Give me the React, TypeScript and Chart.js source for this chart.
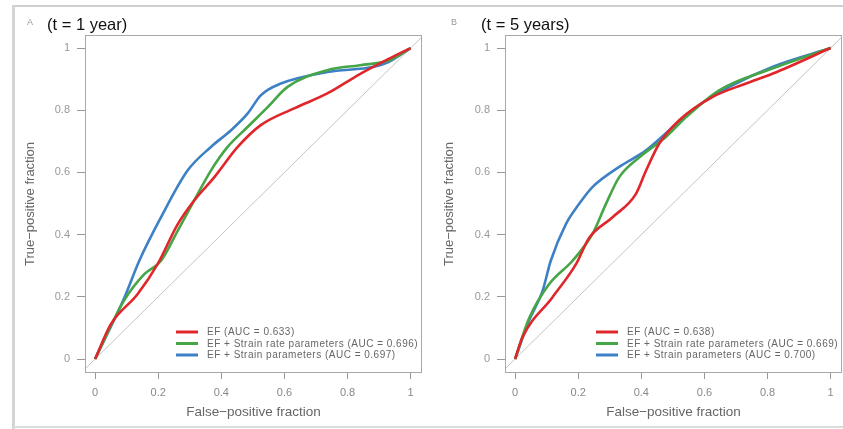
import React, { useEffect, useRef } from "react";
import { Chart, registerables } from "chart.js";
Chart.register(...registerables);

const tickValues = [0, 0.2, 0.4, 0.6, 0.8, 1];
const tickLabels = ["0", "0.2", "0.4", "0.6", "0.8", "1"];
const seriesNames = ["EF", "EF + Strain rate parameters", "EF + Strain parameters"];
const seriesColors = ["#e0262b", "#46a546", "#3d80c6"];
const aucA = ["0.633", "0.696", "0.697"];
const aucB = ["0.638", "0.669", "0.700"];
const panelTitles = ["(t = 1 year)", "(t = 5 years)"];
const panelLetters = ["A", "B"];
const xTitle = "False\u2212positive fraction";
const yTitle = "True\u2212positive fraction";
const axisMin = -0.032;
const axisMax = 1.036;

// Panel A (t = 1 year)
const redA_fpr = [0, 0.05, 0.135, 0.198, 0.262, 0.314, 0.378, 0.452, 0.525, 0.631, 0.736, 0.842, 0.93, 1];
const redA_tpr = [0, 0.112, 0.209, 0.305, 0.434, 0.51, 0.585, 0.682, 0.752, 0.806, 0.854, 0.918, 0.965, 1];
const greenA_fpr = [0, 0.093, 0.156, 0.209, 0.262, 0.314, 0.367, 0.42, 0.483, 0.547, 0.61, 0.736, 0.84, 0.93, 1];
const greenA_tpr = [0, 0.19, 0.273, 0.316, 0.413, 0.51, 0.606, 0.682, 0.746, 0.81, 0.875, 0.929, 0.945, 0.96, 1];
const blueA_fpr = [0, 0.093, 0.14, 0.209, 0.293, 0.367, 0.43, 0.483, 0.525, 0.589, 0.736, 0.884, 0.93, 1];
const blueA_tpr = [0, 0.198, 0.316, 0.456, 0.606, 0.682, 0.735, 0.789, 0.848, 0.886, 0.923, 0.94, 0.955, 1];

// Panel B (t = 5 years)
const redB_fpr = [0, 0.023, 0.118, 0.193, 0.235, 0.309, 0.383, 0.415, 0.457, 0.52, 0.626, 0.732, 0.817, 1];
const redB_tpr = [0, 0.069, 0.198, 0.305, 0.39, 0.456, 0.531, 0.606, 0.693, 0.768, 0.843, 0.886, 0.918, 1];
const greenB_fpr = [0, 0.044, 0.108, 0.182, 0.245, 0.288, 0.33, 0.394, 0.478, 0.542, 0.648, 0.817, 1];
const greenB_tpr = [0, 0.13, 0.241, 0.316, 0.402, 0.499, 0.585, 0.649, 0.714, 0.778, 0.865, 0.935, 1];
const blueB_fpr = [0, 0.044, 0.087, 0.113, 0.161, 0.203, 0.245, 0.33, 0.415, 0.5, 0.574, 0.679, 0.817, 1];
const blueB_tpr = [0, 0.123, 0.219, 0.316, 0.434, 0.499, 0.553, 0.618, 0.671, 0.746, 0.81, 0.875, 0.94, 1];

const FONT = "'Liberation Sans', Arial, sans-serif";

function pts(xs: number[], ys: number[]) {
  return xs.map((x, i) => ({ x, y: ys[i] }));
}

const boxPlugin = {
  id: "box",
  afterDraw(chart: any) {
    const { ctx, chartArea: a } = chart;
    ctx.save();
    ctx.strokeStyle = "#a8a8a8";
    ctx.lineWidth = 1;
    ctx.strokeRect(a.left + 0.5, a.top + 0.5, a.right - a.left - 1, a.bottom - a.top - 1);
    ctx.restore();
  },
};

const legendPlugin = {
  id: "innerLegend",
  afterDatasetsDraw(chart: any) {
    const { ctx, chartArea: a } = chart;
    const items = chart.data.datasets.filter((d: any) => !d.isRef);
    ctx.save();
    ctx.font = "10px " + FONT;
    (ctx as any).letterSpacing = "0.5px";
    ctx.textBaseline = "middle";
    items.forEach((d: any, i: number) => {
      const y = a.bottom - 41 + i * 11.5;
      const x0 = a.left + 91;
      ctx.strokeStyle = d.borderColor;
      ctx.lineWidth = 3;
      ctx.beginPath();
      ctx.moveTo(x0, y);
      ctx.lineTo(x0 + 22, y);
      ctx.stroke();
      ctx.fillStyle = "#666";
      ctx.fillText(d.label, x0 + 31, y + 0.5);
    });
    ctx.restore();
  },
};

type PanelProps = {
  left: number;
  width: number;
  padLeft: number;
  yAxisWidth: number;
  padRight: number;
  series: { fpr: number[]; tpr: number[] }[];
  auc: string[];
};

function Panel(p: PanelProps) {
  const ref = useRef<HTMLCanvasElement>(null);
  useEffect(() => {
    const datasets: any[] = p.series.map((s, i) => ({
      label: `${seriesNames[i]} (AUC = ${p.auc[i]})`,
      data: pts(s.fpr, s.tpr),
      borderColor: seriesColors[i],
      borderWidth: 2.6,
      pointRadius: 0,
      cubicInterpolationMode: "monotone",
      fill: false,
    }));
    datasets.push({
      label: "ref",
      isRef: true,
      data: pts([axisMin, axisMax], [axisMin, axisMax]),
      borderColor: "#c4c4c4",
      borderWidth: 1,
      pointRadius: 0,
      fill: false,
    });
    const fixTicks = (scale: any) => {
      scale.ticks = tickValues.map((v) => ({ value: v }));
    };
    const chart = new Chart(ref.current!, {
      type: "line",
      data: { datasets },
      plugins: [boxPlugin, legendPlugin],
      options: {
        animation: false,
        responsive: false,
        layout: { padding: { top: 35, right: p.padRight, bottom: 9, left: p.padLeft } },
        plugins: { legend: { display: false }, tooltip: { enabled: false } },
        scales: {
          x: {
            type: "linear",
            min: axisMin,
            max: axisMax,
            afterBuildTicks: fixTicks,
            afterFit: (s: any) => {
              s.height = 47;
            },
            grid: { drawOnChartArea: false, drawTicks: true, tickLength: 6, color: "#999" },
            border: { display: false },
            ticks: {
              font: { family: FONT, size: 11 },
              color: "#888",
              padding: 7,
              maxRotation: 0,
              callback: (v: any) => tickLabels[tickValues.indexOf(Number(v))] ?? "",
            },
            title: {
              display: true,
              text: xTitle,
              font: { family: FONT, size: 13.5 },
              color: "#666",
              padding: 0,
            },
          },
          y: {
            type: "linear",
            min: -0.045,
            max: 1.042,
            afterBuildTicks: fixTicks,
            afterFit: (s: any) => {
              s.width = p.yAxisWidth;
            },
            grid: { drawOnChartArea: false, drawTicks: true, tickLength: 8, color: "#999" },
            border: { display: false },
            ticks: {
              font: { family: FONT, size: 11 },
              color: "#999",
              padding: 7,
              callback: (v: any) => tickLabels[tickValues.indexOf(Number(v))] ?? "",
            },
            title: {
              display: true,
              text: yTitle,
              font: { family: FONT, size: 13 },
              color: "#666",
              padding: 0,
            },
          },
        },
      } as any,
    });
    return () => chart.destroy();
  }, []);
  return (
    <canvas
      ref={ref}
      width={p.width}
      height={429}
      style={{ position: "absolute", left: p.left, top: 0, width: p.width, height: 429 }}
    />
  );
}

export default function App() {
  return (
    <div
      style={{
        position: "absolute",
        left: 0,
        top: 0,
        width: 843,
        height: 429,
        background: "#fff",
        overflow: "hidden",
        fontFamily: FONT,
      }}
    >
      <div style={{ position: "absolute", left: 13, top: 5, width: 830, height: 2, background: "#cfcfcf" }} />
      <div style={{ position: "absolute", left: 12, top: 5, width: 3, height: 424, background: "#d4d4d4" }} />
      <div style={{ position: "absolute", left: 13, top: 426, width: 830, height: 2, background: "#dcdcdc" }} />
      <Panel
        left={0}
        width={430}
        padLeft={23}
        yAxisWidth={62}
        padRight={8}
        series={[
          { fpr: redA_fpr, tpr: redA_tpr },
          { fpr: greenA_fpr, tpr: greenA_tpr },
          { fpr: blueA_fpr, tpr: blueA_tpr },
        ]}
        auc={aucA}
      />
      <Panel
        left={430}
        width={413}
        padLeft={12}
        yAxisWidth={63}
        padRight={1}
        series={[
          { fpr: redB_fpr, tpr: redB_tpr },
          { fpr: greenB_fpr, tpr: greenB_tpr },
          { fpr: blueB_fpr, tpr: blueB_tpr },
        ]}
        auc={aucB}
      />
      <div style={{ position: "absolute", left: 27, top: 17, fontSize: 9, color: "#999" }}>{panelLetters[0]}</div>
      <div style={{ position: "absolute", left: 47, top: 15, fontSize: 16.5, color: "#111", whiteSpace: "nowrap" }}>
        {panelTitles[0]}
      </div>
      <div style={{ position: "absolute", left: 451, top: 17, fontSize: 9, color: "#999" }}>{panelLetters[1]}</div>
      <div style={{ position: "absolute", left: 481, top: 15, fontSize: 16.5, color: "#111", whiteSpace: "nowrap" }}>
        {panelTitles[1]}
      </div>
    </div>
  );
}
